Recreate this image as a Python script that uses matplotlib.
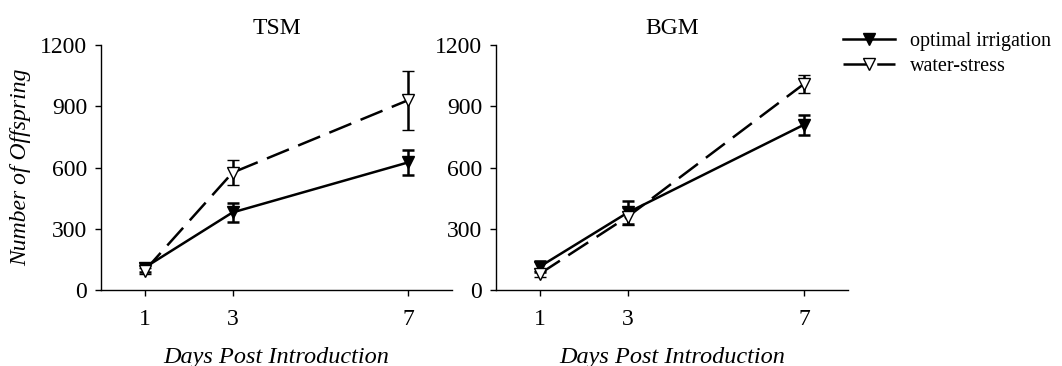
import matplotlib
matplotlib.use("Agg")
import matplotlib.pyplot as plt

days = [1, 3, 7]
tsm_opt = [110, 380, 625]
tsm_opt_err = [20, 48, 60]
tsm_ws = [95, 575, 930]
tsm_ws_err = [15, 60, 145]
bgm_opt = [115, 380, 810]
bgm_opt_err = [28, 55, 50]
bgm_ws = [80, 360, 1010]
bgm_ws_err = [15, 40, 45]
yticks = [0, 300, 600, 900, 1200]

plt.rcParams['font.family'] = ['Liberation Serif', 'DejaVu Serif']
fig = plt.figure(figsize=(10.62, 3.66), dpi=100)
ax1 = fig.add_axes([0.095, 0.2077, 0.3305, 0.669])
ax2 = fig.add_axes([0.467, 0.2077, 0.3315, 0.669])

for ax, title, opt, opte, ws, wse in [
    (ax1, "TSM", tsm_opt, tsm_opt_err, tsm_ws, tsm_ws_err),
    (ax2, "BGM", bgm_opt, bgm_opt_err, bgm_ws, bgm_ws_err),
]:
    ax.errorbar(days, opt, yerr=opte, color='black', lw=1.8, marker='v',
                ms=9, mfc='black', mec='black', capsize=4, elinewidth=1.8,
                capthick=1.8, label='optimal irrigation', zorder=3)
    ax.errorbar(days, ws, yerr=wse, color='black', lw=1.8, ls=(0, (9.5, 4)),
                marker='v', ms=9, mfc='white', mec='black', mew=1.0,
                capsize=4, elinewidth=1.8, capthick=1.8, label='water-stress',
                zorder=4)
    ax.set_xlim(0, 8)
    ax.set_ylim(0, 1200)
    ax.set_xticks(days)
    ax.set_yticks(yticks)
    ax.spines['top'].set_visible(False)
    ax.spines['right'].set_visible(False)
    ax.spines['left'].set_linewidth(1.0)
    ax.spines['bottom'].set_linewidth(1.0)
    ax.tick_params(axis='both', direction='out', length=4, width=1,
                   labelsize=17)
    ax.tick_params(axis='x', pad=10)
    ax.tick_params(axis='y', pad=6)
    ax.set_title(title, fontsize=17, pad=8)
    ax.set_xlabel("Days Post Introduction", fontsize=17.5, style='italic',
                  labelpad=12)

ax1.set_ylabel("Number of Offspring", fontsize=17, style='italic', labelpad=6)

handles, labels = ax1.get_legend_handles_labels()
handles = [h[0] for h in handles]
fig.legend(handles, labels, loc='upper left', bbox_to_anchor=(0.786, 0.935),
           frameon=False, fontsize=14.5, handlelength=2.6, handletextpad=0.75,
           labelspacing=0.3, borderaxespad=0)

fig.savefig("out.png", dpi=100)
